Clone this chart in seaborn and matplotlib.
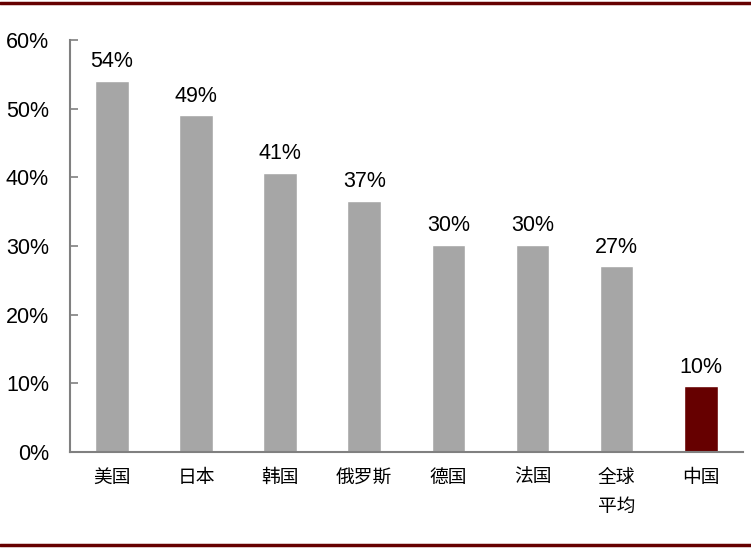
import matplotlib
matplotlib.use("Agg")
import matplotlib.pyplot as plt
from matplotlib.lines import Line2D
from matplotlib.ticker import FuncFormatter, FixedLocator
import pandas as pd
import seaborn as sns

countries = ["美国", "日本", "韩国", "俄罗斯", "德国", "法国", "全球\n平均", "中国"]
shares = [54.1, 49.1, 40.7, 36.6, 30.2, 30.2, 27.1, 9.6]
bar_colors = ["#a6a6a6"] * 7 + ["#660000"]

df = pd.DataFrame({"country": countries, "share": shares})

sns.set_style("white")
plt.rcParams["font.family"] = ["Liberation Sans", "Noto Sans CJK SC", "DejaVu Sans"]
plt.rcParams["text.color"] = "black"
plt.rcParams["xtick.labelcolor"] = "black"
plt.rcParams["ytick.labelcolor"] = "black"

fig = plt.figure(figsize=(7.51, 5.49), dpi=100)
ax = fig.add_axes([0.093, 0.177, 0.896, 0.75])

sns.barplot(data=df, x="country", y="share", hue="country", palette=bar_colors,
            legend=False, width=0.4, saturation=1, ax=ax)

for c in ax.containers:
    ax.bar_label(c, labels=[f"{v:.0f}%" for v in c.datavalues], padding=6,
                 fontsize=15.5, color="black")

ax.set_ylim(0, 60)
ax.set_xlim(-0.5, 7.5)
ax.yaxis.set_major_formatter(FuncFormatter(lambda v, p: f"{v:.0f}%"))
ax.set_yticks(range(0, 61, 10))
ax.tick_params(axis="y", labelsize=15.5, direction="in", length=6, color="#808080",
               width=1.2, left=True, pad=15)

ax.set_xticks(range(len(countries)))
ax.set_xticklabels(countries, family=["Noto Sans CJK SC"], fontsize=13.5, linespacing=1.5)
ax.tick_params(axis="x", which="major", length=0, pad=11)
ax.xaxis.set_minor_locator(FixedLocator([i + 0.5 for i in range(-1, len(countries))]))
ax.tick_params(axis="x", which="minor", direction="in", length=5, color="#808080", width=1.2)

ax.set_xlabel("")
ax.set_ylabel("")
for side in ["top", "right"]:
    ax.spines[side].set_visible(False)
for side in ["left", "bottom"]:
    ax.spines[side].set_color("#808080")
    ax.spines[side].set_linewidth(1.5)

fig.add_artist(Line2D([0, 1], [0.995, 0.995], color="#660000", lw=2.5))
fig.add_artist(Line2D([0, 1], [0.007, 0.007], color="#660000", lw=2.5))

plt.savefig("out.png", dpi=100)
